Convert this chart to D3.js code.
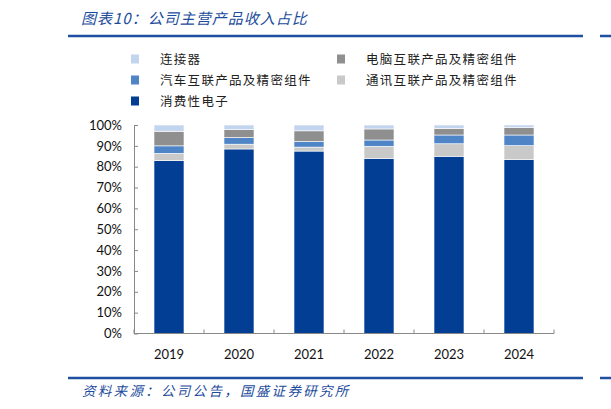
<!DOCTYPE html>
<html>
<head>
<meta charset="utf-8">
<script src="https://cdn.jsdelivr.net/npm/d3@7"></script>
<style>
  body { margin: 0; background: #fff; }
</style>
</head>
<body>
<svg id="canvas"></svg>
<script>
let width = 611, height = 409

// data (share of revenue, %)
const years = ["2019", "2020", "2021", "2022", "2023", "2024"]
const seriesNames = ["消费性电子", "通讯互联产品及精密组件", "汽车互联产品及精密组件", "电脑互联产品及精密组件", "连接器"]
const consumer = [82.9, 88.5, 87.5, 84.0, 85.0, 83.4]
const telecom = [3.5, 2.3, 1.9, 5.8, 6.0, 6.7]
const auto = [3.6, 3.2, 2.7, 3.0, 4.2, 5.1]
const computer = [7.0, 3.8, 5.1, 5.3, 3.2, 3.5]
const connector = [3.0, 2.2, 2.8, 1.9, 1.6, 1.3]
const yTicks = [0, 10, 20, 30, 40, 50, 60, 70, 80, 90, 100]

const colors = ["#023f94", "#c9c9c9", "#4f85c6", "#8f8f8f", "#c3d5ee"]
const keys = ["consumer", "telecom", "auto", "computer", "connector"]

let rows = years.map((y, i) => ({
    year: y, consumer: consumer[i], telecom: telecom[i], auto: auto[i],
    computer: computer[i], connector: connector[i]
}))
let stacked = d3.stack().keys(keys)(rows)

let svg = d3.select('#canvas').attr("width", width).attr("height", height)

let x = d3.scaleBand().domain(years).range([134, 554]).paddingInner(0.5714).paddingOuter(0.2857)
let xb = d3.scaleBand().domain(years).range([134, 554])
let y = d3.scaleLinear().domain([0, 100]).range([333.5, 125])

// title + rules
svg.append("text").attr("x", 81).attr("y", 24)
    .style("font-family", "'Noto Sans CJK SC'").style("font-size", "15px")
    .style("letter-spacing", "1px")
    .style("font-style", "italic").style("fill", "#1d4c9c")
    .text("图表10：公司主营产品收入占比")
svg.append("line").attr("x1", 68).attr("x2", 583).attr("y1", 36).attr("y2", 36)
    .style("stroke", "#1f4fa0").style("stroke-width", 2.5)
svg.append("line").attr("x1", 600).attr("x2", 611).attr("y1", 36).attr("y2", 36)
    .style("stroke", "#1f4fa0").style("stroke-width", 2.5)
svg.append("line").attr("x1", 68).attr("x2", 583).attr("y1", 378).attr("y2", 378)
    .style("stroke", "#1f4fa0").style("stroke-width", 2.5)
svg.append("line").attr("x1", 600).attr("x2", 611).attr("y1", 378).attr("y2", 378)
    .style("stroke", "#1f4fa0").style("stroke-width", 2.5)
svg.append("text").attr("x", 82).attr("y", 396)
    .style("font-family", "'Noto Sans CJK SC'").style("font-size", "13.5px")
    .style("letter-spacing", "2.3px")
    .style("font-style", "italic").style("fill", "#1d4c9c")
    .text("资料来源：公司公告，国盛证券研究所")

// legend
let legendItems = [
    { i: 4, x: 131, y: 59 }, { i: 3, x: 337, y: 59 },
    { i: 2, x: 131, y: 80 }, { i: 1, x: 337, y: 80 },
    { i: 0, x: 131, y: 101 }
]
let lg = svg.selectAll(".lg").data(legendItems).enter().append("g")
lg.append("rect").attr("x", d => d.x).attr("y", d => d.y - 4.5)
    .attr("width", 8).attr("height", 9).style("fill", d => colors[d.i])
lg.append("text").attr("x", d => d.x + 29).attr("y", d => d.y + 4.5)
    .style("font-family", "'Noto Sans CJK SC'").style("font-size", "12.5px")
    .style("letter-spacing", "1.3px").style("fill", "#222")
    .text(d => seriesNames[d.i])

// bars
svg.selectAll(".layer").data(stacked).enter().append("g")
    .style("fill", (d, i) => colors[i])
    .selectAll("rect").data(d => d).enter().append("rect")
    .attr("x", d => x(d.data.year))
    .attr("y", d => y(d[1]))
    .attr("width", x.bandwidth())
    .attr("height", d => y(d[0]) - y(d[1]))
    .style("stroke", "white").style("stroke-width", 0.6)

// y axis
let yAxis = svg.append("g").attr("transform", "translate(134,0)")
    .call(d3.axisLeft(y).tickValues(yTicks).tickFormat(d => d + "%").tickSizeInner(-4).tickSizeOuter(0).tickPadding(12))
yAxis.select(".domain").style("stroke", "#888")
yAxis.selectAll(".tick line").style("stroke", "#888")
yAxis.selectAll("text").style("font-family", "Lato").style("font-size", "13px").style("fill", "#111")

// x axis
let xAxis = svg.append("g").attr("transform", "translate(0,333.5)")
xAxis.append("line").attr("x1", 134).attr("x2", 554).style("stroke", "#888")
xAxis.selectAll(".bt").data(years.concat(["end"])).enter().append("line")
    .attr("x1", (d, i) => i < years.length ? xb(d) : xb.range()[1])
    .attr("x2", (d, i) => i < years.length ? xb(d) : xb.range()[1])
    .attr("y1", -4).attr("y2", 0).style("stroke", "#888")
xAxis.selectAll(".xl").data(years).enter().append("text")
    .attr("x", d => xb(d) + xb.bandwidth() / 2).attr("y", 25)
    .attr("text-anchor", "middle")
    .style("font-family", "Lato").style("font-size", "13px").style("fill", "#111")
    .text(d => d)
</script>
</body>
</html>
